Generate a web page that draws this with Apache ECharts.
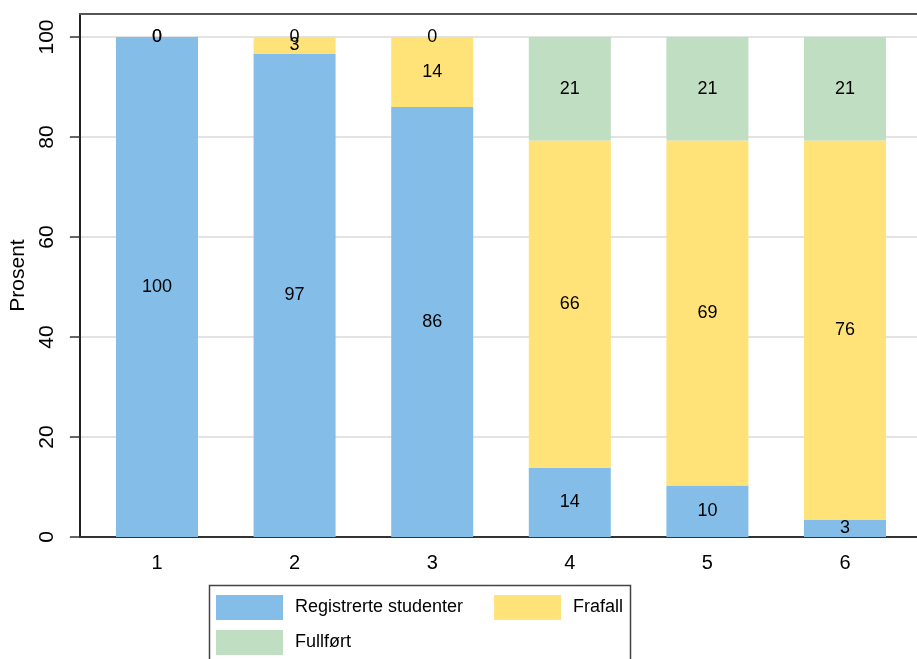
<!DOCTYPE html>
<html>
<head>
<meta charset="utf-8">
<script src="https://cdn.jsdelivr.net/npm/echarts@6/dist/echarts.min.js"></script>
<style>
  html, body { margin: 0; padding: 0; background: #fff; }
  #chart { width: 917px; height: 659px; }
</style>
</head>
<body>
<div id="chart"></div>
<script>
// kategorier (semester) og andeler i prosent
const categories = ['1', '2', '3', '4', '5', '6'];
const registrerte = [100, 96.6, 86, 13.8, 10.3, 3.4];
const frafall = [0, 3.4, 14, 65.5, 69.0, 75.9];
const fullfort = [0, 0, 0, 20.7, 20.7, 20.7];
const yTicks = [0, 20, 40, 60, 80, 100];

const COLORS = { reg: '#84bee8', fra: '#ffe278', full: '#c0dec2' };
const FONT = '"Liberation Sans", Arial, sans-serif';
const Y_MAX = 104.6;

function barSeries(name, values, color) {
  return {
    name: name,
    type: 'bar',
    stack: 'total',
    xAxisIndex: 2,
    yAxisIndex: 1,
    barWidth: 82,
    data: values,
    itemStyle: { color: color },
    label: {
      show: true,
      position: 'inside',
      color: '#000',
      fontSize: 18,
      fontFamily: FONT,
      formatter: p => Math.round(p.value)
    }
  };
}

const chart = echarts.init(document.getElementById('chart'));
chart.setOption({
  animation: false,
  grid: [
    // ramme med akser
    { left: 75, top: 14, right: -8, bottom: 122 },
    // stolpene
    { left: 88.2, top: 14, right: 3.2, bottom: 122 }
  ],
  xAxis: [{
    type: 'value',
    gridIndex: 0,
    min: 0,
    max: 1,
    splitLine: { show: false },
    axisLine: { show: true, onZero: false, lineStyle: { color: '#333', width: 2 } },
    axisTick: { show: false },
    axisLabel: { show: false }
  }, {
    type: 'value',
    gridIndex: 0,
    position: 'top',
    min: 0,
    max: 1,
    splitLine: { show: false },
    axisLine: { show: true, onZero: false, lineStyle: { color: '#555', width: 2 } },
    axisTick: { show: false },
    axisLabel: { show: false }
  }, {
    type: 'category',
    gridIndex: 1,
    data: categories,
    axisLine: { show: false },
    axisTick: { show: false },
    axisLabel: { color: '#000', fontSize: 20, fontFamily: FONT, margin: 16 }
  }],
  yAxis: [{
    type: 'value',
    gridIndex: 0,
    min: 0,
    max: Y_MAX,
    name: 'Prosent',
    nameLocation: 'middle',
    nameRotate: 90,
    nameGap: 50,
    nameTextStyle: { color: '#000', fontSize: 21, fontFamily: FONT },
    axisLine: { show: true, lineStyle: { color: '#222', width: 2 } },
    axisTick: { show: true, customValues: yTicks, length: 10, lineStyle: { color: '#333', width: 1.5 } },
    axisLabel: {
      customValues: yTicks,
      rotate: 90,
      color: '#000',
      fontSize: 21,
      fontFamily: FONT,
      margin: 22
    },
    splitLine: { show: true, lineStyle: { color: '#e3e3e3', width: 2 } }
  }, {
    type: 'value',
    gridIndex: 1,
    min: 0,
    max: Y_MAX,
    show: false
  }],
  legend: [{
    data: ['Registrerte studenter', 'Frafall'],
    left: 216,
    top: 595,
    padding: 0,
    itemWidth: 67,
    itemHeight: 25,
    itemGap: 31,
    icon: 'rect',
    selectedMode: false,
    textStyle: { color: '#000', fontSize: 18, fontFamily: FONT, padding: [0, 0, 0, 7] }
  }, {
    data: ['Fullført'],
    left: 216,
    top: 630,
    padding: 0,
    itemWidth: 67,
    itemHeight: 25,
    icon: 'rect',
    selectedMode: false,
    textStyle: { color: '#000', fontSize: 18, fontFamily: FONT, padding: [0, 0, 0, 7] }
  }],
  graphic: [{
    type: 'rect',
    shape: { x: 209.5, y: 585.5, width: 421, height: 100 },
    style: { fill: 'none', stroke: '#444', lineWidth: 1.5 },
    silent: true
  }],
  series: [
    barSeries('Registrerte studenter', registrerte, COLORS.reg),
    barSeries('Frafall', frafall, COLORS.fra),
    barSeries('Fullført', fullfort, COLORS.full)
  ]
});
</script>
</body>
</html>
